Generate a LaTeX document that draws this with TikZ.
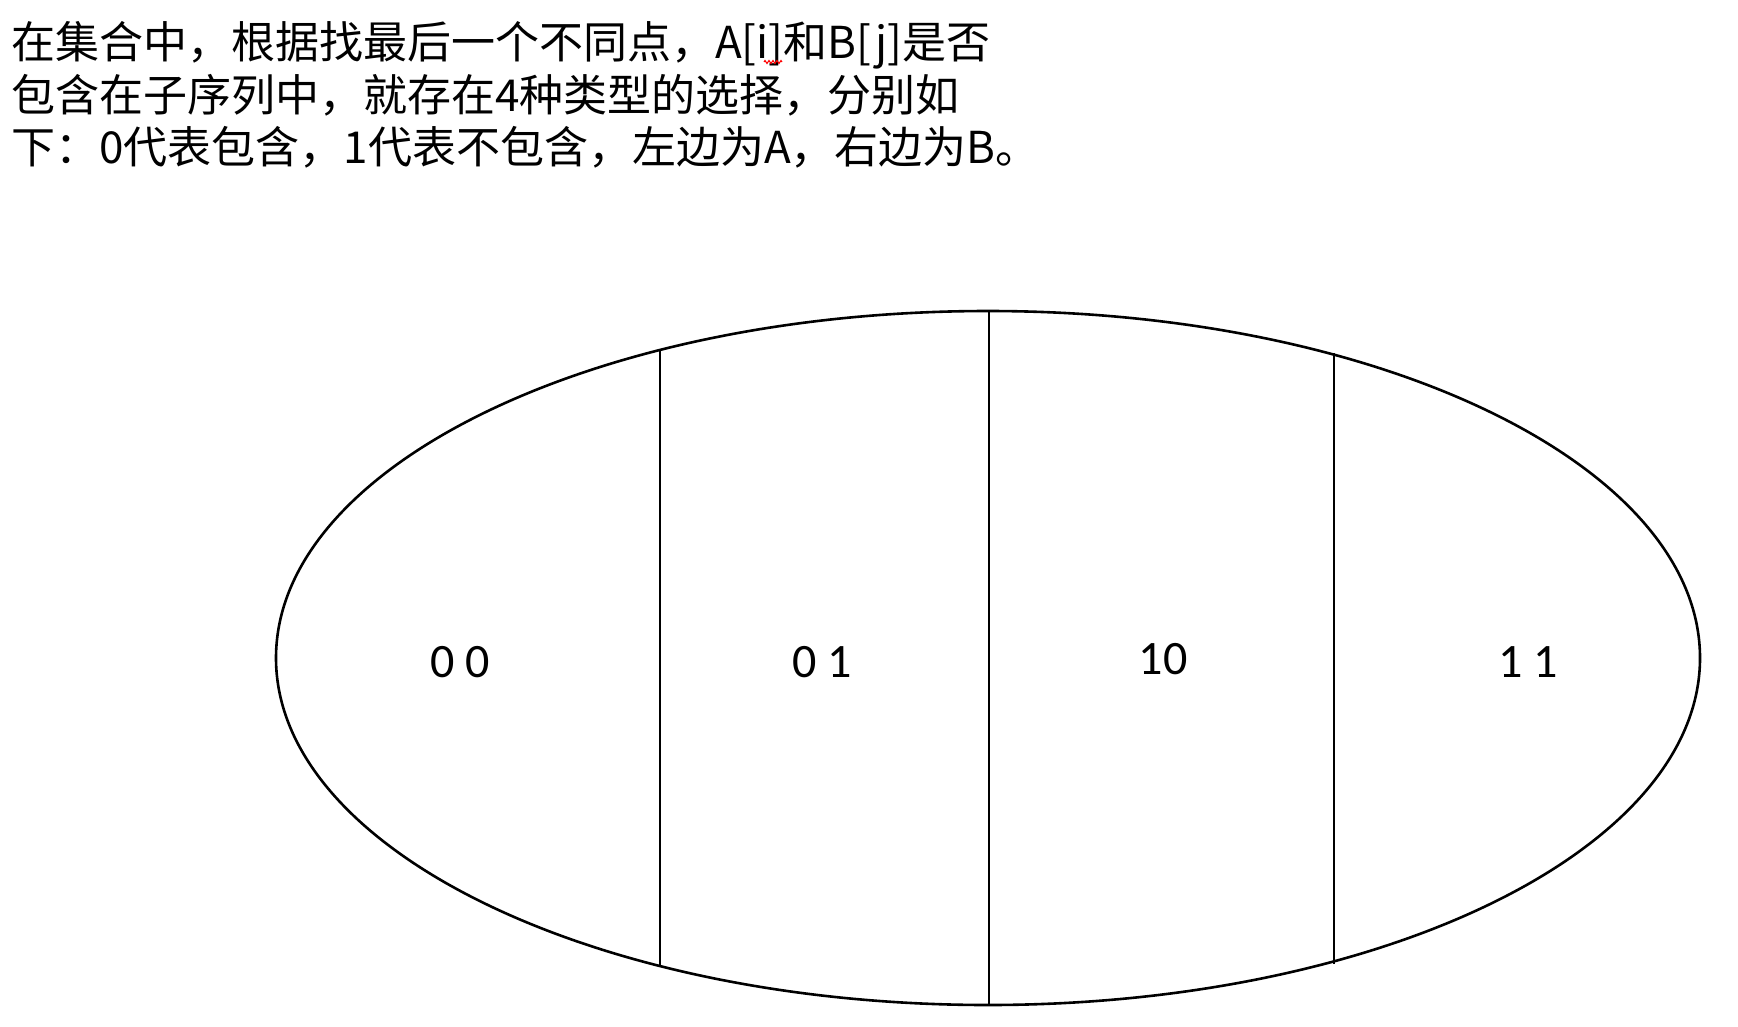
\documentclass[tikz,border=0pt]{standalone}
\usepackage{fontspec}
\setmainfont{Carlito}
\newfontfamily\cjkfont{Noto Sans CJK SC}
\usetikzlibrary{shapes.geometric,decorations.pathmorphing}
\begin{document}
\begin{tikzpicture}[x=1pt,y=-1pt,
  outline/.style={draw, ellipse, line width=2.6pt, inner sep=0pt, outer sep=0pt},
  divider/.style={line width=1.4pt},
  cell/.style={inner sep=0pt, font=\fontsize{48}{56}\selectfont},
  caption/.style={inner sep=0pt, anchor=base west, font=\cjkfont\fontsize{44}{50}\selectfont}]
\useasboundingbox (0,0) rectangle (1738,1026);
\fill[white] (0,0) rectangle (1738,1026);
\node[caption] (t1) at (11,58) {在集合中，根据找最后一个不同点，A[i]和B[j]是否};
\node[caption] (t2) at (11,111) {包含在子序列中，就存在4种类型的选择，分别如};
\node[caption] (t3) at (11,163) {下：0代表包含，1代表不包含，左边为A，右边为B。};
\draw[red, line width=1pt, decorate, decoration={zigzag, amplitude=1.5pt, segment length=4pt}] (764,62) -- (782,62);
\node[outline, minimum width=1424pt, minimum height=694pt] (set) at (988,658) {};
\coordinate (d1t) at (660,350);
\coordinate (d1b) at (660,966);
\coordinate (d3t) at (1334,353);
\coordinate (d3b) at (1334,964);
\draw[divider] (d1t) -- (d1b);
\draw[divider] ([xshift=1pt]set.north) -- ([xshift=1pt]set.south);
\draw[divider] (d3t) -- (d3b);
\node[cell] (c00) at (460,662) {0 0};
\node[cell] (c01) at (822,662) {0 1};
\node[cell] (c10) at (1163,659) {10};
\node[cell] (c11) at (1528,662) {1 1};
\end{tikzpicture}
\end{document}
